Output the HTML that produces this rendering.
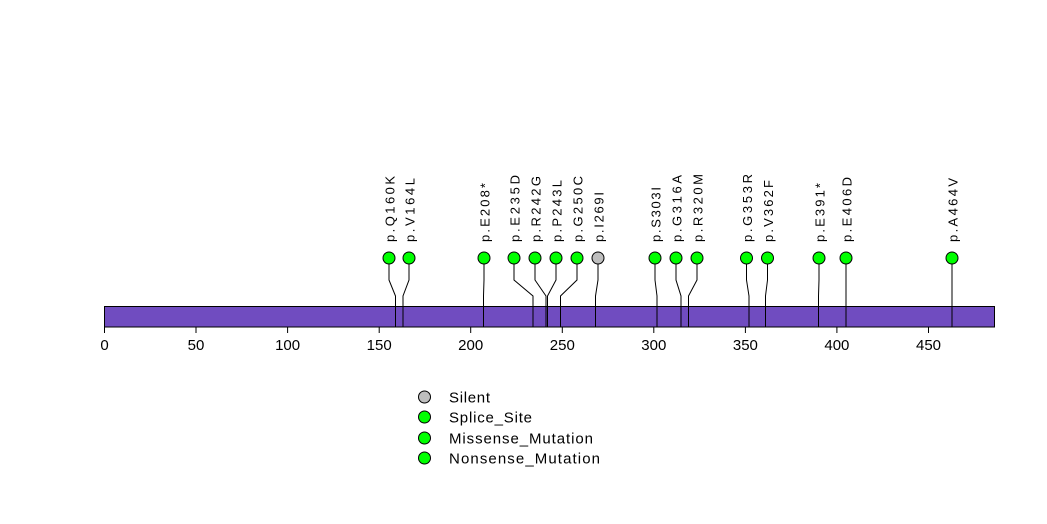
<!DOCTYPE html>
<html>
<head>
<meta charset="utf-8">
<style>
  html, body { margin:0; padding:0; background:#ffffff; }
  svg { display:block; }
  text { font-family: "Liberation Sans", "DejaVu Sans", sans-serif; fill:#000; }
</style>
</head>
<body>
<svg width="1047" height="524" viewBox="0 0 1047 524" xmlns="http://www.w3.org/2000/svg">
  <rect x="0" y="0" width="1047" height="524" fill="#ffffff"/>

  <!-- protein bar -->
  <rect x="104.5" y="306.5" width="890" height="20.5" fill="#704CC0" stroke="#000" stroke-width="1"/>

  <!-- axis ticks -->
  <g stroke="#000" stroke-width="1">
    <line x1="104.5" y1="327" x2="104.5" y2="333"/>
    <line x1="196" y1="327" x2="196" y2="333"/>
    <line x1="287.6" y1="327" x2="287.6" y2="333"/>
    <line x1="379.2" y1="327" x2="379.2" y2="333"/>
    <line x1="470.7" y1="327" x2="470.7" y2="333"/>
    <line x1="562.3" y1="327" x2="562.3" y2="333"/>
    <line x1="653.8" y1="327" x2="653.8" y2="333"/>
    <line x1="745.4" y1="327" x2="745.4" y2="333"/>
    <line x1="836.9" y1="327" x2="836.9" y2="333"/>
    <line x1="928.5" y1="327" x2="928.5" y2="333"/>
  </g>
  <g font-size="15" text-anchor="middle">
    <text x="104.5" y="350">0</text>
    <text x="196" y="350">50</text>
    <text x="287.6" y="350">100</text>
    <text x="379.2" y="350">150</text>
    <text x="470.7" y="350">200</text>
    <text x="562.3" y="350">250</text>
    <text x="653.8" y="350">300</text>
    <text x="745.4" y="350">350</text>
    <text x="836.9" y="350">400</text>
    <text x="928.5" y="350">450</text>
  </g>

  <!-- stems -->
  <g stroke="#000" stroke-width="1" fill="none">
    <polyline points="389,258 389,280 395.5,296 395.5,327"/>
    <polyline points="409,258 409,280 403,296 403,327"/>
    <polyline points="484,258 484,280 483.5,296 483.5,327"/>
    <polyline points="514,258 514,280 533,296 533,327"/>
    <polyline points="535,258 535,280 546,296 546,327"/>
    <polyline points="556,258 556,280 547.5,296 547.5,327"/>
    <polyline points="577,258 577,280 560.5,296 560.5,327"/>
    <polyline points="598,258 598,280 595.5,296 595.5,327"/>
    <polyline points="655,258 655,280 657,296 657,327"/>
    <polyline points="676,258 676,280 681,296 681,327"/>
    <polyline points="697,258 697,280 688.5,296 688.5,327"/>
    <polyline points="746.5,258 746.5,280 749,296 749,327"/>
    <polyline points="767.5,258 767.5,280 765.5,296 765.5,327"/>
    <polyline points="819,258 819,280 818.5,296 818.5,327"/>
    <polyline points="846,258 846,280 846,296 846,327"/>
    <polyline points="952,258 952,280 952,296 952,327"/>
  </g>

  <!-- lollipop heads -->
  <g stroke="#000" stroke-width="1">
    <circle cx="389" cy="258" r="6" fill="#00FF00"/>
    <circle cx="409" cy="258" r="6" fill="#00FF00"/>
    <circle cx="484" cy="258" r="6" fill="#00FF00"/>
    <circle cx="514" cy="258" r="6" fill="#00FF00"/>
    <circle cx="535" cy="258" r="6" fill="#00FF00"/>
    <circle cx="556" cy="258" r="6" fill="#00FF00"/>
    <circle cx="577" cy="258" r="6" fill="#00FF00"/>
    <circle cx="598" cy="258" r="6" fill="#BEBEBE"/>
    <circle cx="655" cy="258" r="6" fill="#00FF00"/>
    <circle cx="676" cy="258" r="6" fill="#00FF00"/>
    <circle cx="697" cy="258" r="6" fill="#00FF00"/>
    <circle cx="746.5" cy="258" r="6" fill="#00FF00"/>
    <circle cx="767.5" cy="258" r="6" fill="#00FF00"/>
    <circle cx="819" cy="258" r="6" fill="#00FF00"/>
    <circle cx="846" cy="258" r="6" fill="#00FF00"/>
    <circle cx="952" cy="258" r="6" fill="#00FF00"/>
  </g>

  <!-- mutation labels -->
  <g font-size="13">
    <text transform="translate(394.5,242) rotate(-90)" textLength="66" lengthAdjust="spacing">p.Q160K</text>
    <text transform="translate(414.5,242) rotate(-90)" textLength="64" lengthAdjust="spacing">p.V164L</text>
    <text transform="translate(489.5,242) rotate(-90)" textLength="59" lengthAdjust="spacing">p.E208*</text>
    <text transform="translate(519.5,242) rotate(-90)" textLength="67" lengthAdjust="spacing">p.E235D</text>
    <text transform="translate(540.5,242) rotate(-90)" textLength="66" lengthAdjust="spacing">p.R242G</text>
    <text transform="translate(561.5,242) rotate(-90)" textLength="62" lengthAdjust="spacing">p.P243L</text>
    <text transform="translate(582.5,242) rotate(-90)" textLength="66" lengthAdjust="spacing">p.G250C</text>
    <text transform="translate(603.5,242) rotate(-90)" textLength="50" lengthAdjust="spacing">p.I269I</text>
    <text transform="translate(660.5,242) rotate(-90)" textLength="55" lengthAdjust="spacing">p.S303I</text>
    <text transform="translate(681.5,242) rotate(-90)" textLength="67" lengthAdjust="spacing">p.G316A</text>
    <text transform="translate(702.5,242) rotate(-90)" textLength="68" lengthAdjust="spacing">p.R320M</text>
    <text transform="translate(752,242) rotate(-90)" textLength="68" lengthAdjust="spacing">p.G353R</text>
    <text transform="translate(773,242) rotate(-90)" textLength="62" lengthAdjust="spacing">p.V362F</text>
    <text transform="translate(824.5,242) rotate(-90)" textLength="59" lengthAdjust="spacing">p.E391*</text>
    <text transform="translate(851.5,242) rotate(-90)" textLength="65" lengthAdjust="spacing">p.E406D</text>
    <text transform="translate(957.5,242) rotate(-90)" textLength="64" lengthAdjust="spacing">p.A464V</text>
  </g>

  <!-- legend -->
  <g stroke="#000" stroke-width="1">
    <circle cx="424.5" cy="397" r="6" fill="#BEBEBE"/>
    <circle cx="424.5" cy="417" r="6" fill="#00FF00"/>
    <circle cx="424.5" cy="438" r="6" fill="#00FF00"/>
    <circle cx="424.5" cy="458" r="6" fill="#00FF00"/>
  </g>
  <g font-size="15">
    <text x="449" y="402.5" textLength="41" lengthAdjust="spacing">Silent</text>
    <text x="449" y="422.5" textLength="83" lengthAdjust="spacing">Splice_Site</text>
    <text x="449" y="443.5" textLength="144" lengthAdjust="spacing">Missense_Mutation</text>
    <text x="449" y="463.5" textLength="151" lengthAdjust="spacing">Nonsense_Mutation</text>
  </g>
</svg>
</body>
</html>
